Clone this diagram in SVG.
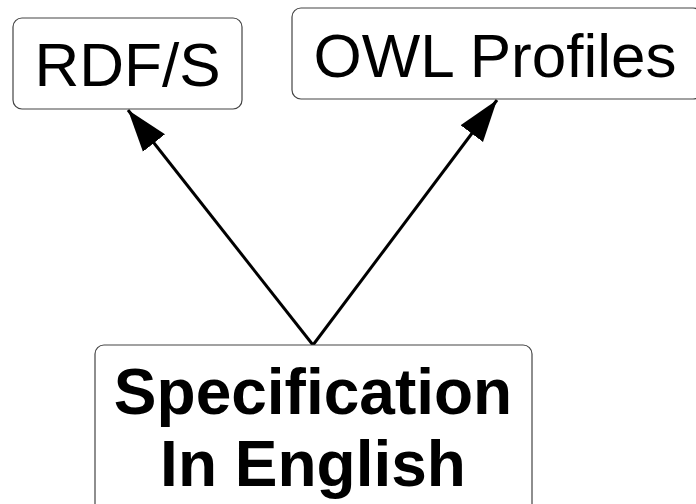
<svg xmlns="http://www.w3.org/2000/svg" width="696" height="504" viewBox="0 0 696 504">
<style>
.box{fill:#fff;stroke:#444;stroke-width:1.2}
.t{font-family:"Liberation Sans",Arial,sans-serif;fill:#000;text-anchor:middle}
.b{font-weight:bold}
.edge{stroke:#000;stroke-width:3;fill:none}
</style>
<defs>
<marker id="ah" markerUnits="userSpaceOnUse" markerWidth="44" markerHeight="30" viewBox="0 0 44 30" refX="42" refY="15" orient="auto">
<path d="M0,1 L42,15 L0,29 Z" fill="#000"/>
</marker>
</defs>
<g id="connectors">
<line class="edge" x1="313" y1="345" x2="128" y2="110" marker-end="url(#ah)"/>
<line class="edge" x1="313" y1="345" x2="497" y2="100" marker-end="url(#ah)"/>
</g>
<g id="rdfs">
<rect class="box" x="13" y="18" width="229" height="91" rx="9"/>
<text class="t" x="127.5" y="86" font-size="62">RDF/S</text>
</g>
<g id="owl">
<rect class="box" x="292" y="8" width="410" height="91" rx="9"/>
<text class="t" x="495" y="77" font-size="62">OWL Profiles</text>
</g>
<g id="spec">
<rect class="box" x="95" y="345" width="437" height="175" rx="9"/>
<text class="t b" x="313" y="414" font-size="64">Specification</text>
<text class="t b" x="313" y="486" font-size="64">In English</text>
</g>
</svg>
